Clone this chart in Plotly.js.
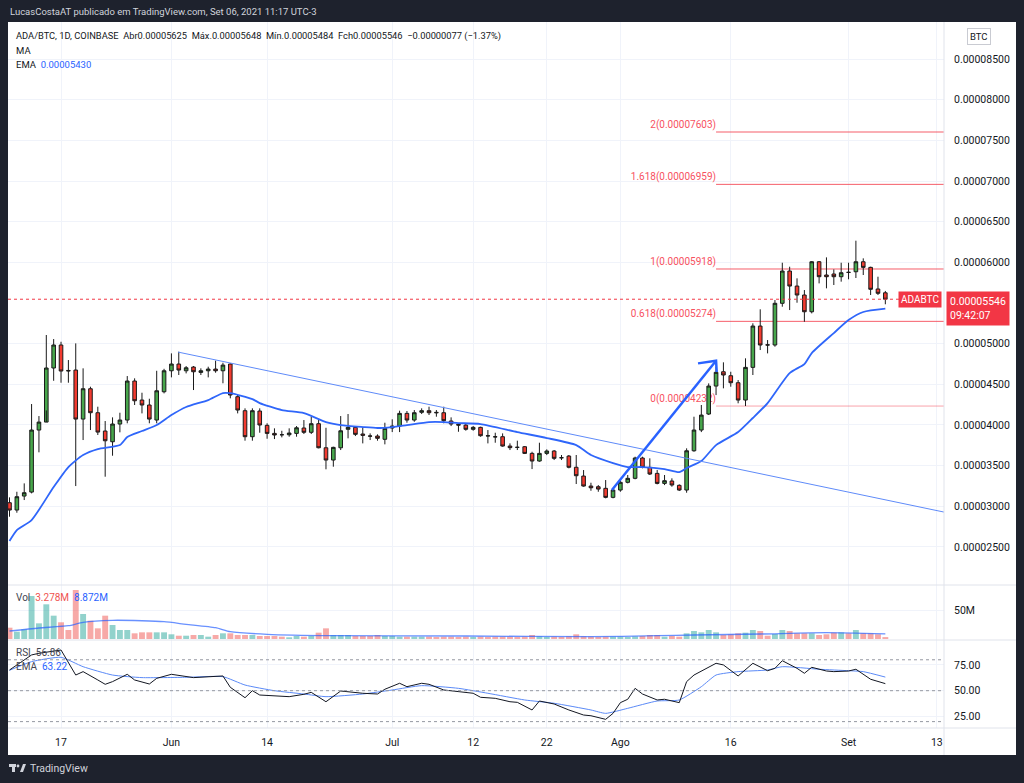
<!DOCTYPE html>
<html><head><meta charset="utf-8">
<script src="https://cdn.plot.ly/plotly-3.0.1.min.js"></script>
<style>html,body{margin:0;padding:0;background:#1e222d;}#chart{width:1024px;height:783px;}</style>
</head><body><div id="chart"></div>
<script>
// ---- DATA (prices in satoshi = 1e-8 BTC) ----
const startDate = '2021-05-10';
const open = [3043,2953,3125,3174,3937,4035,4700,4983,4670,4675,
4072,4445,4150,3925,3793,4011,4060,4540,4306,4245,
4060,4408,4666,4749,4666,4712,4646,4666,4687,4666,
4749,4347,4175,3855,4171,3995,3896,3880,3879,3896,
3962,3909,4015,3719,3568,3719,3946,3970,3888,3864,
3863,3823,3962,3986,4142,4060,4155,4175,4155,4150,
4048,4007,3998,3946,3970,3867,3855,3855,3740,3725,
3732,3650,3556,3650,3679,3597,3617,3479,3371,3248,
3240,3220,3109,3199,3294,3343,3593,3478,3404,3281,
3310,3257,3199,3682,3937,4134,4478,4654,4605,4519,
4306,4708,5216,4985,4983,5496,5893,5708,5598,5392,
6007,5844,5856,5823,5877,5884,6007,5938,5672,5625];
const high = [3109,3178,3281,4257,4109,5106,5056,5023,4798,5003,
4696,4470,4224,4048,4093,4150,4601,4573,4396,4322,
4666,4690,4880,4900,4724,4724,4696,4716,4790,4765,
4757,4368,4204,4204,4204,4020,3958,3928,3958,3986,
4060,4101,4060,3965,3732,4109,4134,3986,3978,3896,
3884,4027,4069,4175,4171,4183,4204,4224,4183,4224,
4093,4020,4011,3986,3978,3937,3904,3896,3773,3806,
3740,3670,3781,3699,3691,3630,3630,3630,3445,3289,
3260,3322,3207,3314,3384,3609,3609,3589,3445,3384,
3343,3269,3712,4101,4245,4511,4716,4770,4654,4552,
4819,5250,5422,5044,5536,5995,5946,5803,5659,6016,
6016,6061,5913,5995,5995,6266,6049,5946,5823,5648];
const low = [2871,2920,3076,3158,3663,4178,4543,4519,4519,3248,
3814,3937,3876,3363,3621,3909,4020,4245,4142,4020,
4020,4388,4585,4614,4634,4429,4614,4585,4642,4512,
4327,4142,3806,3806,3904,3830,3826,3847,3855,3855,
3888,3888,3712,3454,3486,3691,3835,3863,3773,3814,
3806,3761,3912,3912,4027,4039,4134,4122,4101,4020,
3986,3916,3929,3929,3855,3773,3781,3732,3691,3691,
3642,3457,3547,3629,3568,3568,3466,3273,3240,3190,
3178,3097,3097,3178,3281,3331,3466,3384,3269,3260,
3240,3187,3166,3670,3912,4122,4367,4450,4470,4266,
4232,4614,4921,4880,4962,5454,5413,5503,5269,5372,
5741,5680,5721,5762,5791,5807,5844,5598,5598,5484];
const close = [2953,3117,3166,3937,4035,4700,4983,4663,4665,4072,
4445,4150,3912,3805,4011,4060,4540,4297,4245,4072,
4420,4666,4749,4675,4703,4654,4666,4687,4666,4736,
4368,4183,3855,4175,3999,3896,3876,3879,3900,3965,
3909,4015,3719,3568,3724,3928,3970,3884,3872,3862,
3835,3958,3986,4142,4060,4150,4175,4150,4150,4052,
4011,3998,3946,3970,3867,3865,3853,3740,3720,3724,
3650,3556,3650,3679,3589,3596,3479,3375,3248,3227,
3211,3109,3199,3294,3343,3593,3478,3396,3281,3314,
3261,3199,3682,3937,4121,4478,4647,4614,4519,4306,
4708,5216,4983,4983,5496,5893,5708,5598,5392,6007,
5823,5823,5823,5872,5876,6007,5938,5668,5619,5546];
// volume in millions
const volume = [19.5,12.6,16.7,74.1,27,59.8,40.2,28.8,15.5,84.5,
43.1,31.6,18.4,40.2,24.1,15.5,15.5,9.8,11.5,11.5,
11.5,11.5,8.1,5.7,5.7,6.9,6.9,4.0,6.9,9.8,
9.8,6.9,6.9,6.9,5.2,5.2,5.2,4.0,2.9,5.2,
4.0,5.2,10.9,18.4,6.9,6.9,6.9,5.2,5.2,5.2,
6.9,5.2,5.2,4.0,4.0,4.0,4.0,4.0,3.5,4.0,
4.0,3.5,4.0,3.5,4.0,3.5,4.0,4.0,4.0,3.5,
4.0,6.9,4.5,3.5,4.0,3.5,4.5,8.1,4.5,4.0,
3.5,4.0,4.0,4.0,3.5,4.5,5.2,6.9,6.9,4.0,
5.2,4.0,9.8,13.8,11.5,15.5,11.5,6.9,8.1,9.8,
10.9,15.5,13.8,5.7,8.6,15.5,13.8,9.8,9.8,9.8,
6.9,8.1,10.9,11.5,9.8,15.5,9.8,9.8,8.1,3.278];
// EMA of price: [day offset, satoshi]
const emaDay = [0,1,3,6,8,10,12,15,16,18,20,22,24,27,29,30,33,34,37,40,43,45,48,50,52,54,57,59,61,64,69,73,77,79,82,84,86,89,91,92,94,96,99,101,103,106,108,109,112,114,116,119];
const emaVal = [2572,2707,2830,3236,3482,3630,3703,3752,3851,3925,3998,4121,4220,4306,4392,4390,4318,4269,4183,4146,4035,3998,3974,3962,3974,3998,4035,4035,4023,4011,3912,3839,3752,3630,3531,3482,3482,3457,3420,3470,3556,3752,3912,4085,4269,4638,4749,4884,5130,5290,5389,5430];
// volume MA (millions)
const volMaDay = [0,4,8,10,14,18,21,24,28,30,35,44,62,79,88,93,102,111,119];
const volMaVal = [13.8,19,22.9,28.8,32.2,31.5,29.8,25.3,19.5,12.6,8.1,5.7,5.2,4.0,5.7,6.9,8.6,10.9,8.872];
// RSI
const rsiDay = [0,1,3,4,7,9,10,12,13,14,16,17,19,20,22,25,29,30,32,33,34,38,40,41,43,45,48,50,51,53,54,56,57,59,61,63,64,66,68,69,71,72,74,76,78,79,81,82,83,84,85,86,88,89,91,92,93,95,96,97,99,101,103,104,105,107,108,109,111,112,114,115,117,119];
const rsiVal = [70.1,75,84.7,86.3,89.5,65.2,68.5,60.4,56.2,58.8,65.9,60.4,56.5,62,65.9,62.7,64.3,53.3,43.2,50,45.8,44.2,46.5,48.4,39.3,49.7,47.5,46.8,51.4,57.2,53.9,57.2,56.2,50.7,49,47.5,43.6,42.6,39.3,38.7,31.3,40,37.1,31.3,26.4,25.7,22.2,28,38.4,41.7,52.3,46.8,41,41.7,38.4,58.8,65.2,73.3,76.6,75,64.3,76.6,69.4,71.7,79.1,71.7,66.9,72.7,69.1,68.5,69.1,70.8,61.1,56.86];
const rsiEmaDay = [0,3,7,10,14,18,24,29,32,36,40,43,48,52,56,61,65,70,74,79,81,84,88,91,94,96,99,103,105,110,114,116,119];
const rsiEmaVal = [69.8,78.2,82.4,73.3,65.2,62.7,63,63.6,55.5,50,46.8,44.2,46.8,50.7,54.9,52.3,47.5,41,37.8,31.3,28,32.9,40,41,53.9,65.2,68.5,70.1,73.3,70.8,69.4,68.5,63.22];
// drawings
const trendDay = [22.9, 126.97];
const trendVal = [4896, 2928];
const arrowDay = [81.85, 96.0, null, 93.55, 96.0, 96.09];
const arrowVal = [3199, 4790, null, 4757, 4790, 4651];
const fibRatio = ['0','0.618','1','1.618','2'];
const fibVal = [4232, 5274, 5918, 6959, 7603];
const fibStartDay = 96;
const lastPrice = 5546;
// axis ticks (0.00005500 is hidden by the last-price label in the reference)
const xTickDates = ['2021-05-17','2021-06-01','2021-06-14','2021-07-01','2021-07-12','2021-07-22','2021-08-01','2021-08-16','2021-09-01','2021-09-13'];
const xTickText = ['17','Jun','14','Jul','12','22','Ago','16','Set','13'];
const priceTicks = [2500,3000,3500,4000,4500,5000,6000,6500,7000,7500,8000,8500];
const rsiTicks = [25,50,75];

// ---- helpers ----
const DAY = 86400000;
const BASE = Date.parse(startDate + 'T00:00:00Z');
const dayStr = d => d === null ? null : new Date(BASE + d * DAY).toISOString().slice(0, 19).replace('T', ' ');
const sat = v => v === null ? null : v * 1e-8;
const dates = open.map((_, i) => dayStr(i));
const fmtP = v => (v * 1e-8).toFixed(8);

// pixel helpers for paper coords (plot area: x 8..944, y 22..728)
const PL = 8, PR = 944, PT = 22, PB = 728;
const px = x => (x - PL) / (PR - PL);
const py = y => (PB - y) / (PB - PT);

const FONT = 'Roboto, "Noto Sans", sans-serif';
const TXT = '#131722';
const GRID = '#f0f3fa';
const BLUE = '#2962ff';
const RED = '#f23645';

const traces = [
  {type:'candlestick', x: dates, open: open.map(sat), high: high.map(sat), low: low.map(sat), close: close.map(sat),
   xaxis:'x', yaxis:'y', whiskerwidth:0, hoverinfo:'skip',
   increasing:{line:{color:'#1a1a1a', width:1}, fillcolor:'#47a64b'},
   decreasing:{line:{color:'#1a1a1a', width:1}, fillcolor:'#f23b30'}},
  {type:'scatter', mode:'lines', x: emaDay.map(dayStr), y: emaVal.map(sat), yaxis:'y',
   line:{color:'#2f66fa', width:1.8, shape:'spline', smoothing:0.6}, hoverinfo:'skip'},
  {type:'scatter', mode:'lines', x: trendDay.map(dayStr), y: trendVal.map(sat), yaxis:'y',
   line:{color:'#5f8bf9', width:1}, hoverinfo:'skip'},
  {type:'scatter', mode:'lines', x: arrowDay.map(dayStr), y: arrowVal.map(sat), yaxis:'y', connectgaps:false,
   line:{color:BLUE, width:2.5}, hoverinfo:'skip'},
  {type:'bar', x: dates, y: volume.map(v => v * 1e6), yaxis:'y2', width: 0.8 * DAY,
   marker:{color: open.map((o, i) => close[i] >= o ? 'rgba(38,166,154,0.5)' : 'rgba(239,83,80,0.5)'), line:{width:0}}, hoverinfo:'skip'},
  {type:'scatter', mode:'lines', x: volMaDay.map(dayStr), y: volMaVal.map(v => v * 1e6), yaxis:'y2',
   line:{color:BLUE, width:1.3, shape:'spline', smoothing:0.6}, opacity:0.7, hoverinfo:'skip'},
  {type:'scatter', mode:'lines', x: rsiEmaDay.map(dayStr), y: rsiEmaVal, yaxis:'y3',
   line:{color:'#5b8af7', width:1, shape:'spline', smoothing:0.5}, hoverinfo:'skip'},
  {type:'scatter', mode:'lines', x: rsiDay.map(dayStr), y: rsiVal, yaxis:'y3',
   line:{color:'#131722', width:1}, hoverinfo:'skip'}
];

const xEnd = dayStr(126.97);
const shapes = [
  // white chart area
  {type:'rect', xref:'paper', yref:'paper', x0: px(8), x1: px(1016), y0: py(755), y1: py(22), fillcolor:'#ffffff', line:{width:0}, layer:'below'},
  // separators
  {type:'line', xref:'paper', yref:'paper', x0: 1, x1: 1, y0: py(755), y1: py(22), line:{color:'#e0e3eb', width:1}},
  {type:'line', xref:'paper', yref:'paper', x0: 0, x1: px(1016), y0: 0, y1: 0, line:{color:'#e0e3eb', width:1}},
  {type:'line', xref:'paper', yref:'paper', x0: 0, x1: px(1016), y0: py(585), y1: py(585), line:{color:'#e0e3eb', width:1}},
  {type:'line', xref:'paper', yref:'paper', x0: 0, x1: px(1016), y0: py(640), y1: py(640), line:{color:'#e0e3eb', width:1}},
  // RSI bands
  ...[80, 50, 20].map(v => ({type:'line', xref:'paper', yref:'y3', x0:0, x1:1, y0:v, y1:v, line:{color:'#9598a1', width:1, dash:'3px,3px'}})),
  // last price dotted line
  {type:'line', xref:'paper', yref:'y', x0:0, x1:1, y0: sat(lastPrice), y1: sat(lastPrice), line:{color:RED, width:1, dash:'dot'}},
  // fib levels
  ...fibVal.map((v, i) => ({type:'line', xref:'x', yref:'y', x0: dayStr(fibStartDay), x1: xEnd, y0: sat(v), y1: sat(v),
    layer:'between', line:{color: i === 0 ? 'rgba(242,54,69,0.45)' : 'rgba(242,54,69,0.8)', width:1},
    label:{text: fibRatio[i] + '(' + fmtP(v) + ')', textposition:'start', xanchor:'right', yanchor:'bottom', padding:2,
      font:{family:FONT, size:10, color:'#f7525f'}}})),
  // TradingView logo
  {type:'rect', xref:'paper', yref:'paper', x0:px(9), x1:px(16), y0:py(767), y1:py(764), fillcolor:'#d1d4dc', line:{width:0}},
  {type:'rect', xref:'paper', yref:'paper', x0:px(12), x1:px(15), y0:py(772), y1:py(764), fillcolor:'#d1d4dc', line:{width:0}},
  {type:'circle', xref:'paper', yref:'paper', x0:px(16.6), x1:px(19.4), y0:py(767.4), y1:py(764.6), fillcolor:'#d1d4dc', line:{width:0}},
  {type:'path', xref:'paper', yref:'paper', path:`M ${px(20)} ${py(772)} L ${px(23)} ${py(764)} L ${px(26)} ${py(764)} L ${px(23)} ${py(772)} Z`, fillcolor:'#d1d4dc', line:{width:0}}
];

const ann = (x, y, text, opts) => Object.assign({xref:'paper', yref:'paper', x: px(x), y: py(y), text, showarrow:false,
  xanchor:'left', yanchor:'middle', align:'left', font:{family:FONT, size:9.5, color:TXT}}, opts || {});
const sp = '\u00a0\u00a0';
const annotations = [
  ann(8, 11, 'LucasCostaAT publicado em TradingView.com, Set 06, 2021 11:17 UTC-3', {font:{family:FONT, size:9.5, color:'#d1d4dc'}}),
  ann(14, 36, 'ADA/BTC, 1D, COINBASE' + sp + 'Abr0.00005625' + sp + 'Máx.0.00005648' + sp + 'Mín.0.00005484' + sp + 'Fch0.00005546' + sp + '−0.00000077 (−1.37%)', {font:{family:FONT, size:9.3, color:TXT}}),
  ann(14, 50, 'MA'),
  ann(14, 64, 'EMA' + sp + '<span style="color:' + BLUE + '">0.00005430</span>'),
  ann(14, 597, 'Vol' + sp + '<span style="color:#ef5350">3.278M</span>' + sp + '<span style="color:' + BLUE + '">8.872M</span>', {font:{family:FONT, size:10, color:'#434651'}}),
  ann(14, 652, 'RSI' + sp + '56.86', {font:{family:FONT, size:10, color:'#434651'}}),
  ann(14, 666, 'EMA' + sp + '<span style="color:' + BLUE + '">63.22</span>', {font:{family:FONT, size:10, color:'#434651'}}),
  ann(979, 37, 'BTC', {xanchor:'center', font:{family:FONT, size:9.5, color:TXT}, bordercolor:'#c9cbd2', borderwidth:1, borderpad:2}),
  ann(28, 768, 'TradingView', {font:{family:FONT, size:10.5, color:'#d1d4dc'}}),
  {xref:'paper', yref:'y', x:1, y: sat(lastPrice), xshift:-2, text:'ADABTC', showarrow:false, xanchor:'right', yanchor:'middle',
   bgcolor:RED, borderpad:2, font:{family:FONT, size:10, color:'#ffffff'}},
  {xref:'paper', yref:'y', x: px(946), y: sat(lastPrice), yshift:8, text: fmtP(lastPrice) + '<br>09:42:07', showarrow:false,
   xanchor:'left', yanchor:'top', align:'left', bgcolor:RED, borderpad:3, font:{family:FONT, size:10.5, color:'#ffffff'}}
];

const layout = {
  width:1024, height:783, margin:{l:PL, r:1024 - PR, t:PT, b:783 - PB, pad:0},
  paper_bgcolor:'#1e222d', plot_bgcolor:'rgba(0,0,0,0)', showlegend:false,
  font:{family:FONT, size:10.5, color:TXT},
  xaxis:{type:'date', range:[dayStr(-0.204), xEnd], anchor:'y3', rangeslider:{visible:false},
    tickmode:'array', tickvals: xTickDates, ticktext: xTickText, showgrid:true, gridcolor:GRID, gridwidth:1,
    ticks:'', showline:false, zeroline:false, ticklabelstandoff:6, tickfont:{family:FONT, size:10.5, color:TXT}},
  yaxis:{domain:[py(585), 1], range:[sat(2031), sat(8956)], side:'right', tickmode:'array',
    tickvals: priceTicks.map(sat), ticktext: priceTicks.map(fmtP), showgrid:true, gridcolor:GRID, zeroline:false,
    ticks:'', ticklabelstandoff:9, tickfont:{family:FONT, size:10.5, color:TXT}},
  yaxis2:{domain:[py(640), py(585)], range:[-1.72e6, 93.1e6], side:'right', anchor:'x', tickmode:'array',
    tickvals:[50e6], ticktext:['50M'], showgrid:true, gridcolor:GRID, zeroline:false, ticks:'', ticklabelstandoff:9,
    tickfont:{family:FONT, size:10.5, color:TXT}},
  yaxis3:{domain:[0, py(640)], range:[13.8, 99.2], side:'right', anchor:'x', tickmode:'array',
    tickvals: rsiTicks, ticktext: rsiTicks.map(v => v.toFixed(2)), showgrid:true, gridcolor:GRID, zeroline:false, ticks:'',
    ticklabelstandoff:9, tickfont:{family:FONT, size:10.5, color:TXT}},
  boxgap:0.3,
  shapes, annotations
};

Plotly.newPlot('chart', traces, layout, {staticPlot:true, displayModeBar:false});
</script></body></html>
